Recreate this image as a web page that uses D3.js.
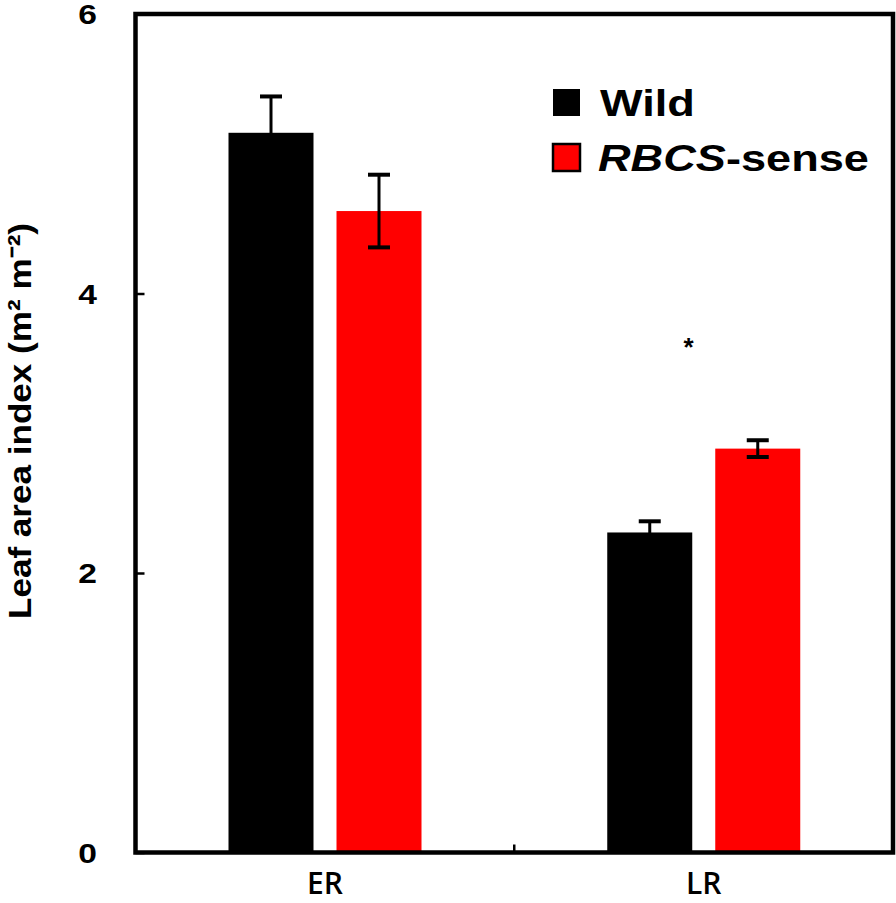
<!DOCTYPE html>
<html>
<head>
<meta charset="utf-8">
<script src="https://cdn.jsdelivr.net/npm/d3@7"></script>
<style>
  html, body { margin: 0; padding: 0; background: #fff; }
  svg { display: block; }
</style>
</head>
<body>
<svg id="chart" width="896" height="903"></svg>
<script>
// ---- data ----
const categories = ["ER", "LR"];
const seriesNames = ["Wild", "RBCS-sense"];
const seriesColors = ["#000000", "#ff0000"];
const wildValues = [5.15, 2.29];
const wildErrors = [0.26, 0.08];
const senseValues = [4.59, 2.89];
const senseErrors = [0.26, 0.06];
const yTicks = [0, 2, 4, 6];
const yLabel = "Leaf area index (m² m⁻²)";
const significance = [{ category: "LR", label: "*", y: 3.65 }];

const rows = [];
categories.forEach((c, i) => {
  rows.push({ cat: c, series: seriesNames[0], value: wildValues[i], err: wildErrors[i], color: seriesColors[0] });
  rows.push({ cat: c, series: seriesNames[1], value: senseValues[i], err: senseErrors[i], color: seriesColors[1] });
});

// ---- layout ----
const mLeft = 135.5, mRight = 893, mTop = 14, mBottom = 852.5;
const svg = d3.select("#chart");

const x0 = d3.scaleBand().domain(categories).range([mLeft, mRight]).padding(0);
const x1 = d3.scaleBand().domain(seriesNames)
  .range([93, 286]).paddingInner(0.213).paddingOuter(0);
const y = d3.scaleLinear().domain([0, 6]).range([mBottom, mTop]);

// bars
svg.append("g").selectAll("rect").data(rows).join("rect")
  .attr("x", d => x0(d.cat) + x1(d.series))
  .attr("width", x1.bandwidth())
  .attr("y", d => y(d.value))
  .attr("height", d => y(0) - y(d.value))
  .attr("fill", d => d.color);

// error bars
const capW = 22;
const eb = svg.append("g").attr("stroke", "#000").attr("stroke-width", 3);
rows.forEach(d => {
  const cx = x0(d.cat) + x1(d.series) + x1.bandwidth() / 2;
  eb.append("line").attr("x1", cx).attr("x2", cx)
    .attr("y1", y(d.value + d.err)).attr("y2", y(d.value - d.err));
  [d.value + d.err, d.value - d.err].forEach(v => {
    eb.append("line").attr("x1", cx - capW / 2).attr("x2", cx + capW / 2)
      .attr("y1", y(v)).attr("y2", y(v)).attr("stroke-width", 4);
  });
});

// frame
svg.append("rect")
  .attr("x", mLeft).attr("y", mTop)
  .attr("width", mRight - mLeft).attr("height", mBottom - mTop)
  .attr("fill", "none").attr("stroke", "#000").attr("stroke-width", 4.5);

// y axis ticks (inward)
const yAxis = d3.axisRight(y).tickValues(yTicks).tickSize(9).tickFormat("");
const yg = svg.append("g").attr("transform", `translate(${mLeft},0)`).call(yAxis);
yg.select(".domain").remove();
yg.selectAll("line").attr("stroke", "#000").attr("stroke-width", 2.5);

// y tick labels
svg.append("g").selectAll("text").data(yTicks).join("text")
  .attr("transform", d => `translate(97,${y(d) + 10}) scale(1.2,1)`)
  .attr("text-anchor", "end")
  .attr("font-family", "Liberation Sans, Arial, sans-serif")
  .attr("font-weight", "bold")
  .attr("font-size", 28)
  .attr("fill", "#000")
  .text(d => d);

// x axis middle tick (inward)
const mid = x0("LR");
svg.append("line").attr("x1", mid).attr("x2", mid)
  .attr("y1", mBottom).attr("y2", mBottom - 8)
  .attr("stroke", "#000").attr("stroke-width", 2.5);

// x labels
svg.append("g").selectAll("text").data(categories).join("text")
  .attr("x", d => x0(d) + 93 + 193 / 2)
  .attr("y", 894)
  .attr("text-anchor", "middle")
  .attr("font-family", "Open Sans, sans-serif")
  .attr("font-weight", 600)
  .attr("font-size", 30)
  .attr("fill", "#000")
  .text(d => d);

// y label
svg.append("text")
  .attr("transform", "translate(31,421) rotate(-90)")
  .attr("text-anchor", "middle")
  .attr("font-family", "Liberation Sans, Arial, sans-serif")
  .attr("font-weight", "bold")
  .attr("font-size", 32)
  .attr("textLength", 396)
  .attr("lengthAdjust", "spacingAndGlyphs")
  .attr("fill", "#000")
  .text(yLabel);

// significance
svg.append("g").selectAll("text").data(significance).join("text")
  .attr("x", d => x0(d.category) + x0.bandwidth() / 2 - 15)
  .attr("y", d => y(d.y) + 14)
  .attr("text-anchor", "middle")
  .attr("font-family", "Liberation Sans, Arial, sans-serif")
  .attr("font-weight", "bold")
  .attr("font-size", 26)
  .attr("fill", "#000")
  .text(d => d.label);

// legend
const legend = svg.append("g");
const legY = [102, 157];
seriesNames.forEach((s, i) => {
  legend.append("rect")
    .attr("x", 553).attr("y", legY[i] - 13)
    .attr("width", 27).attr("height", 27)
    .attr("fill", seriesColors[i])
    .attr("stroke", "#000").attr("stroke-width", i === 1 ? 2.5 : 0);
  const t = legend.append("text")
    .attr("transform", `translate(${i === 0 ? 600 : 598},${legY[i] + 13.5}) scale(1.22,1)`)
    .attr("font-family", "Liberation Sans, Arial, sans-serif")
    .attr("font-weight", "bold")
    .attr("font-size", 37)
    .attr("fill", "#000");
  if (s === "RBCS-sense") {
    t.append("tspan").attr("font-style", "italic").text("RBCS");
    t.append("tspan").text("-sense");
  } else {
    t.text(s);
  }
});
</script>
</body>
</html>
